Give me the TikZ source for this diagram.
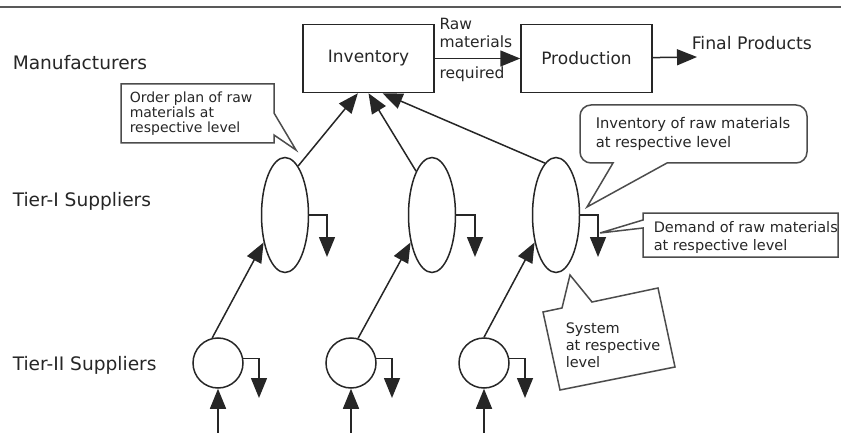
\documentclass[tikz,border=0pt]{standalone}
\usepackage{fontspec}
\setmainfont{DejaVu Sans}
\usetikzlibrary{arrows.meta,shapes.geometric}

\newcommand{\tierfont}{\fontsize{18.6}{21}\selectfont}
\newcommand{\boxfont}{\fontsize{17}{20}\selectfont}
\newcommand{\flowfont}{\fontsize{15.5}{18}\selectfont}
\newcommand{\notefont}{\fontsize{14.5}{18}\selectfont}

\begin{document}
\begin{tikzpicture}[x=1pt, y=-1pt, line width=1.5pt, color=black!85,
    flow/.style={-{Triangle[length=20pt,width=16pt]}},
    procbox/.style={draw, minimum width=131pt, minimum height=68pt, font=\boxfont},
    tierone/.style={draw, ellipse, minimum width=47pt, minimum height=115pt},
    tiertwo/.style={draw, circle, minimum size=50pt, inner sep=0pt},
    lab/.style={inner sep=0pt, font=\tierfont},
    note/.style={anchor=north west, inner sep=0pt, align=left, font=\notefont}]
    \useasboundingbox (0,0) rectangle (841,433);
    % rule at the top
    \draw[line width=2.5pt, black!65] (0,7) -- (841,7);

    % levels
    \node[lab, anchor=west] (manu) at (12,63) {Manufacturers};
    \node[lab, anchor=west] (tierI) at (12,201) {Tier-I Suppliers};
    \node[lab, anchor=west] (tierII) at (12,365) {Tier-II Suppliers};

    % manufacturer
    \node[procbox] (inv) at (368.5,58.5) {Inventory};
    \node[procbox] (prod) at (586.5,58.5) {Production};
    \coordinate (fin) at (697,57);
    \draw[flow] (inv) -- (prod)
        node[pos=0, anchor=south west, inner sep=0pt, align=left, font=\flowfont, xshift=4pt, yshift=10pt] (rawtxt) {Raw\\materials}
        node[pos=0, anchor=north west, inner sep=0pt, font=\flowfont, xshift=4pt, yshift=-7pt] (reqtxt) {required};
    \draw[flow] (prod) -- (fin)
        node[anchor=base west, inner sep=0pt, font=\fontsize{17.3}{20}\selectfont, xshift=-6pt, yshift=7pt] (fintxt) {Final Products};

    % tier-I suppliers
    \node[tierone] (e1) at (285,215) {};
    \node[tierone] (e2) at (432,215) {};
    \node[tierone] (e3) at (556,215) {};
    \draw[flow] (e1.75) -- (inv.253);
    \draw[flow] (e2.110) -- (inv.270);
    \draw[flow] (e3.102) -- (inv.292);
    \coordinate (d1) at (327,257);
    \coordinate (d2) at (475,257);
    \coordinate (d3) at (598,257);
    \draw[flow] (e1.east) -| (d1);
    \draw[flow] (e2.east) -| (d2);
    \draw[flow] (e3.east) -| (d3);

    % tier-II suppliers
    \node[tiertwo] (c1) at (218,363) {};
    \node[tiertwo] (c2) at (351,363) {};
    \node[tiertwo] (c3) at (484,363) {};
    \draw[flow] (c1.103) -- (e1.232);
    \draw[flow] (c2.74) -- (e2.232);
    \draw[flow] (c3.90) -- (e3.232);
    \coordinate (cd1) at (259,398);
    \coordinate (cd2) at (392,398);
    \coordinate (cd3) at (525,398);
    \draw[flow] (c1.10) -| (cd1);
    \draw[flow] (c2.10) -| (cd2);
    \draw[flow] (c3.10) -| (cd3);
    \coordinate (in1) at (218,433);
    \coordinate (in2) at (351,433);
    \coordinate (in3) at (484,433);
    \draw[flow] (in1) -- (c1);
    \draw[flow] (in2) -- (c2);
    \draw[flow] (in3) -- (c3);

    % callouts
    \draw[black!70] (121,84) -- (274,84) -- (274,113) -- (296,150) -- (274,135) -- (274,143) -- (121,143) -- cycle;
    \node[note, font=\fontsize{14}{15}\selectfont] (ordertxt) at (129,91) {Order plan of raw\\materials at\\respective level};
    \draw[black!70] (613,163) -- (587,207) -- (667,163) [rounded corners=11pt] -- (807,163) -- (807,105) -- (580,105) -- (580,163) [sharp corners] -- cycle;
    \node[note, font=\fontsize{14.7}{19}\selectfont] (invtxt) at (595,117) {Inventory of raw materials\\at respective level};
    \draw[black!70] (643,220) -- (600,233) -- (643,228) -- (643,257) -- (838,257) -- (838,213) -- (643,213) -- cycle;
    \node[note] (demtxt) at (653,221) {Demand of raw materials\\at respective level};
    \draw[black!70, fill=white] (543,312) -- (562,308) -- (570,275) -- (592,302) -- (658,288) -- (675,367) -- (560,390) -- cycle;
    \node[note, font=\fontsize{14.5}{17}\selectfont] (systxt) at (565,322) {System\\at respective\\level};
\end{tikzpicture}
\end{document}
